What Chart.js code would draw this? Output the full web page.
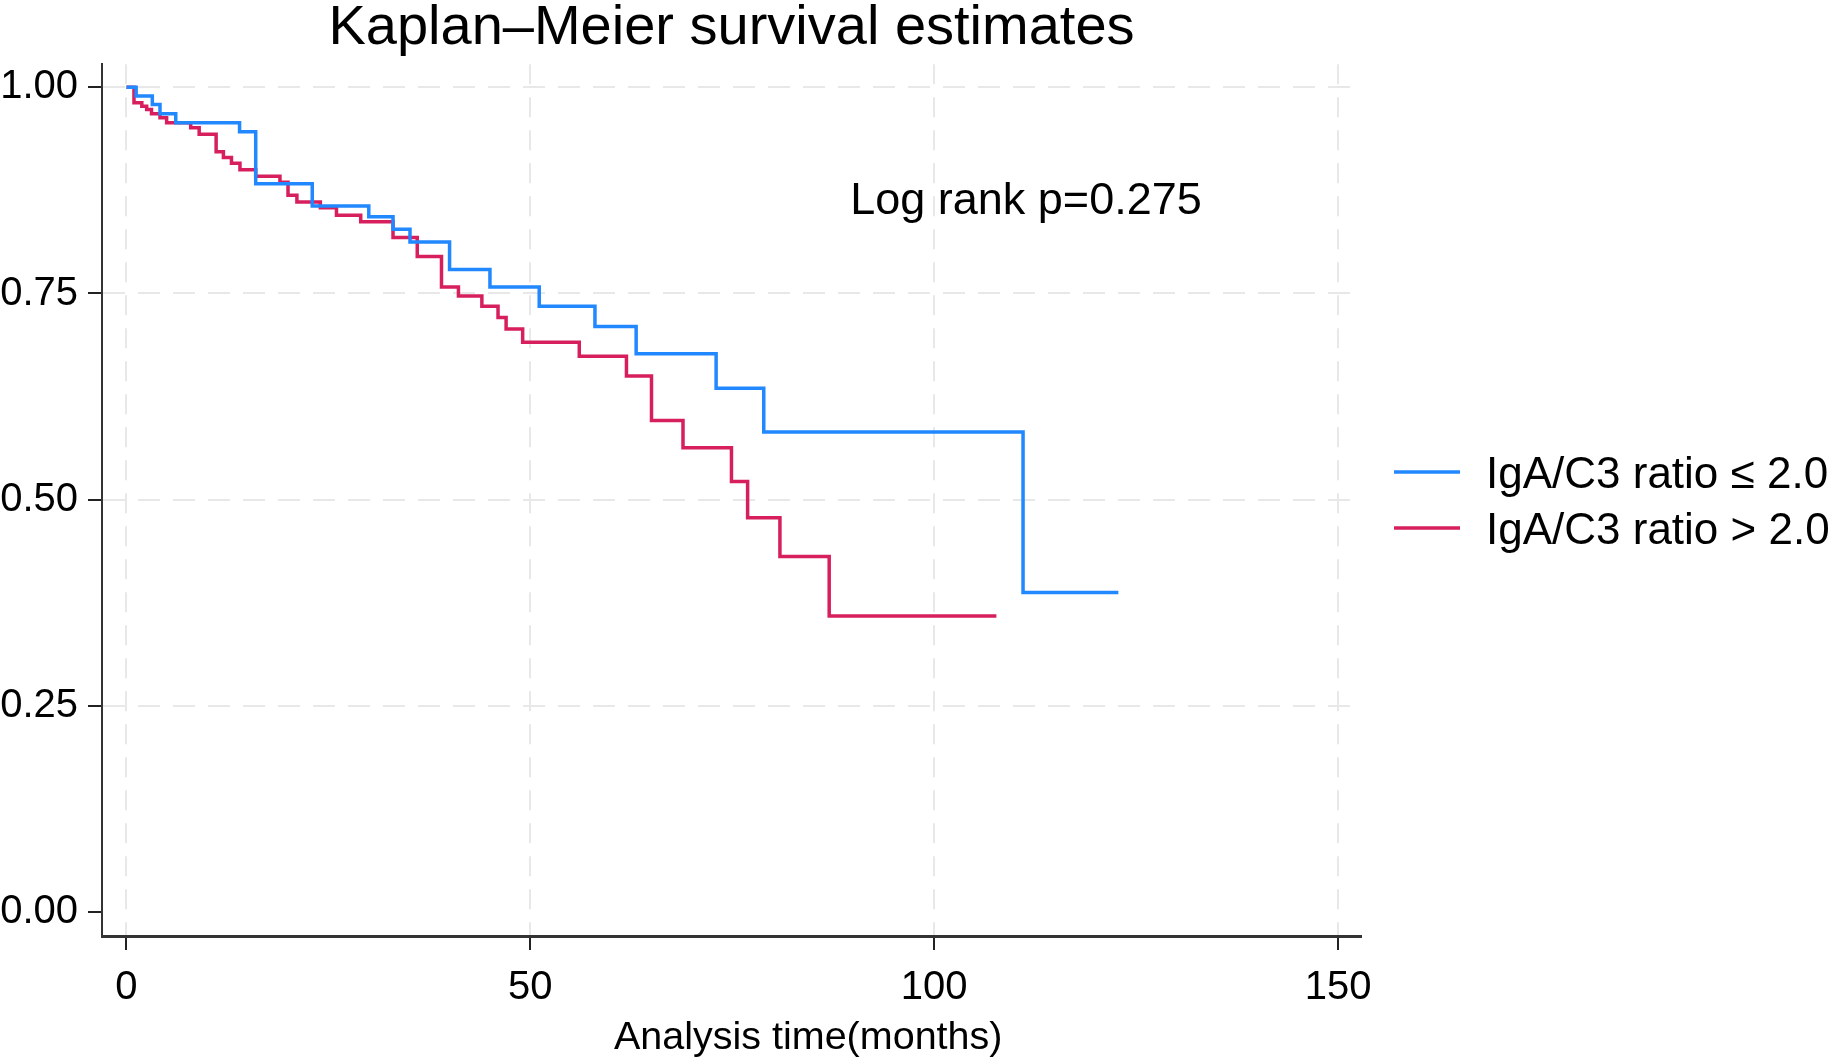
<!DOCTYPE html>
<html>
<head>
<meta charset="utf-8">
<title>Kaplan–Meier survival estimates</title>
<script src="https://cdn.jsdelivr.net/npm/chart.js@4.4.1/dist/chart.umd.min.js"></script>
<style>
    html, body { margin: 0; padding: 0; background: #fff; }
    #wrap { width: 1832px; height: 1061px; position: relative; }
</style>
</head>
<body>
<div id="wrap"><canvas id="kmChart"></canvas></div>
<script>
// step points: time of each drop (months) and survival after it
const lowTimes = [0, 1.2, 3.2, 4.15, 6.1, 14.0, 16.0, 23.0, 30.0, 33.0, 35.1, 40.0, 45.0, 51.1, 58.0, 63.1, 73.0, 78.9, 111.0, 122.8];
const lowSurv  = [1.0, 0.9895, 0.979, 0.968, 0.957, 0.946, 0.883, 0.856, 0.843, 0.828, 0.8125, 0.779, 0.758, 0.7345, 0.710, 0.677, 0.635, 0.582, 0.3875, 0.3875];

const highTimes = [0, 0.93, 1.9, 2.5, 3.1, 4.15, 4.97, 7.95, 9.0, 11.1, 12.0, 13.0, 14.05, 16.0, 19.0, 20.0, 21.1, 24.0, 26.0, 29.0, 33.0, 36.0, 39.0, 41.1, 44.0, 46.0, 47.0, 49.05, 56.06, 61.9, 65.0, 68.9, 74.9, 76.9, 80.9, 87.0, 107.7];
const highSurv  = [1.0, 0.9814, 0.977, 0.973, 0.968, 0.963, 0.957, 0.951, 0.943, 0.922, 0.915, 0.908, 0.900, 0.892, 0.885, 0.869, 0.861, 0.854, 0.845, 0.837, 0.818, 0.795, 0.758, 0.747, 0.7345, 0.721, 0.707, 0.691, 0.674, 0.650, 0.596, 0.563, 0.522, 0.478, 0.431, 0.359, 0.359];

const seriesLabels = ['IgA/C3 ratio \u2264 2.0', 'IgA/C3 ratio > 2.0'];
const xTicks = [0, 50, 100, 150];
const yTicks = [0, 0.25, 0.5, 0.75, 1];

const FONT = "'Liberation Sans', Arial, sans-serif";
const BLUE = '#2188ff';
const RED = '#d61f5c';

const toPoints = (ts, ss) => ts.map((t, i) => ({ x: t, y: ss[i] }));

// log rank text, x axis title and legend on the right
const extrasPlugin = {
    id: 'kmExtras',
    afterDraw(chart) {
        const { ctx, chartArea, scales } = chart;
        ctx.save();
        ctx.fillStyle = '#000';
        ctx.textAlign = 'left';
        ctx.textBaseline = 'middle';
        ctx.font = '45px ' + FONT;
        ctx.fillText('Log rank p=0.275', scales.x.getPixelForValue(89.6), scales.y.getPixelForValue(0.861));

        ctx.font = '39.5px ' + FONT;
        ctx.textAlign = 'center';
        ctx.fillText('Analysis time(months)', scales.x.getPixelForValue(84.4), 1038);

        ctx.font = '44px ' + FONT;
        ctx.textAlign = 'left';
        const mid = (chartArea.top + chartArea.bottom) / 2;
        chart.data.datasets.forEach((ds, i) => {
            const y = mid - 28 + i * 56;
            ctx.strokeStyle = ds.borderColor;
            ctx.lineWidth = 3.5;
            ctx.beginPath();
            ctx.moveTo(chartArea.right + 33, y);
            ctx.lineTo(chartArea.right + 99, y);
            ctx.stroke();
            ctx.fillText(ds.label, chartArea.right + 125, y + 4);
        });
        ctx.restore();
    }
};

const ctx = document.getElementById('kmChart').getContext('2d');
new Chart(ctx, {
    type: 'line',
    data: {
        datasets: [
            { label: seriesLabels[0], data: toPoints(lowTimes, lowSurv), borderColor: BLUE, borderWidth: 3.5, stepped: true, pointRadius: 0, fill: false },
            { label: seriesLabels[1], data: toPoints(highTimes, highSurv), borderColor: RED, borderWidth: 3.5, stepped: true, pointRadius: 0, fill: false }
        ]
    },
    options: {
        responsive: true,
        maintainAspectRatio: false,
        animation: false,
        layout: { padding: { left: 0, right: 471, top: 0, bottom: 0 } },
        plugins: {
            legend: { display: false },
            tooltip: { enabled: false },
            title: {
                display: true,
                text: 'Kaplan\u2013Meier survival estimates',
                color: '#000',
                fullSize: false,
                font: { family: FONT, size: 56, weight: 'normal', lineHeight: 0.8 },
                padding: { top: 6, bottom: 13.4 }
            }
        },
        scales: {
            x: {
                type: 'linear',
                min: -3.03,
                max: 152.84,
                afterBuildTicks: (scale) => { scale.ticks = xTicks.map(v => ({ value: v })); },
                afterFit: (scale) => { scale.height = 125; },
                ticks: { color: '#000', padding: 13.5, font: { family: FONT, size: 40 }, callback: (v) => String(v) },
                grid: { color: '#e8e8e8', lineWidth: 2, tickLength: 14, tickColor: '#222', tickWidth: 2 },
                border: { display: true, color: '#333', width: 3, dash: [20, 13] }
            },
            y: {
                type: 'linear',
                min: -0.029,
                max: 1.028,
                afterBuildTicks: (scale) => { scale.ticks = yTicks.map(v => ({ value: v })); },
                afterFit: (scale) => { scale.width = 102; },
                ticks: { color: '#000', padding: 10, font: { family: FONT, size: 40 }, callback: (v) => v.toFixed(2) },
                grid: {
                    color: (c) => (c.tick && c.tick.value === 0 ? 'rgba(0,0,0,0)' : '#e8e8e8'),
                    lineWidth: 2, tickLength: 14, tickColor: '#222', tickWidth: 2
                },
                border: { display: true, color: '#333', width: 2, dash: [22, 13] }
            }
        }
    },
    plugins: [extrasPlugin]
});
</script>
</body>
</html>
